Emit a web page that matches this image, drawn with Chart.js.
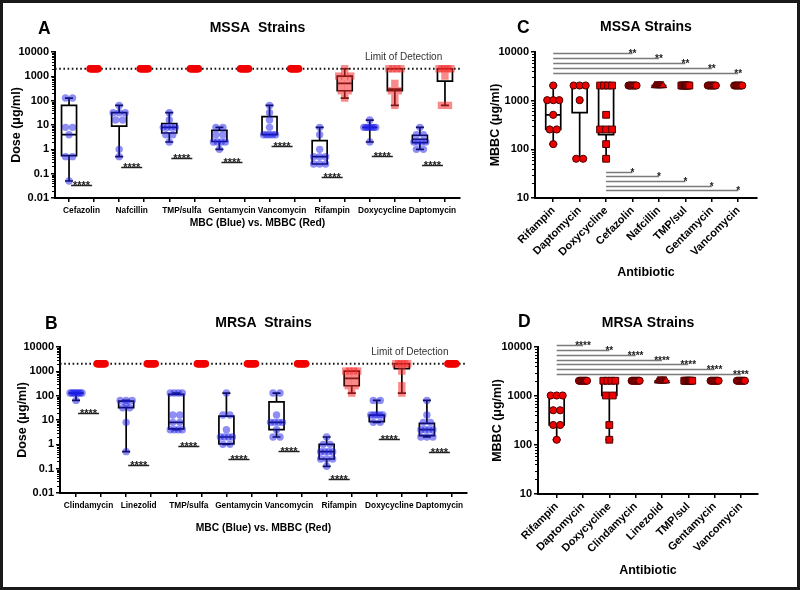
<!DOCTYPE html>
<html><head><meta charset="utf-8">
<script src="https://cdn.jsdelivr.net/npm/chart.js@4.4.1/dist/chart.umd.min.js"></script>
<style>
html,body{margin:0;padding:0;background:#fff;overflow:hidden;width:800px;height:590px;}
#frame{position:absolute;left:0;top:0;width:800px;height:590px;box-sizing:border-box;border:3px solid #1a1a1a;}
canvas{position:absolute;}
</style></head><body>
<div id="frame"></div>
<canvas id="cA" width="472" height="245" style="left:3px;top:3px"></canvas>
<canvas id="cB" width="472" height="250" style="left:3px;top:295px"></canvas>
<canvas id="cC" width="315" height="290" style="left:480px;top:3px"></canvas>
<canvas id="cD" width="315" height="290" style="left:480px;top:295px"></canvas>
<script>
// ---------------- DATA ----------------
const LOD = 2048;
const yTickValsAB = [0.01, 0.1, 1, 10, 100, 1000, 10000];
const yTickLabelsAB = ['0.01', '0.1', '1', '10', '100', '1000', '10000'];
const yTickValsCD = [10, 100, 1000, 10000];
const yTickLabelsCD = ['10', '100', '1000', '10000'];

// Panel A: MSSA, MBC (blue) vs MBBC (red)
const catsA = ['Cefazolin', 'Nafcillin', 'TMP/sulfa', 'Gentamycin', 'Vancomycin', 'Rifampin', 'Doxycycline', 'Daptomycin'];
const mbcA = [
  [128, 128, 8, 8, 4, 0.5, 0.5, 0.05],
  [64, 32, 32, 32, 16, 16, 1, 0.5],
  [32, 16, 8, 8, 8, 8, 4, 4, 2],
  [8, 8, 4, 4, 2, 2, 2, 2, 1],
  [64, 32, 16, 8, 4, 4, 4, 4, 4],
  [8, 4, 1, 0.5, 0.5, 0.5, 0.25, 0.25, 0.25],
  [16, 8, 8, 8, 8, 8, 8, 8, 2],
  [8, 4, 4, 2, 2, 2, 2, 1, 1]
];
const mbcBoxA = [
  [0.05, 0.55, 4, 64, 128],
  [0.5, 9, 32, 32, 64],
  [2, 4.7, 8, 11.5, 32],
  [1, 2.1, 2.1, 6, 8],
  [4, 4, 4, 22, 64],
  [0.25, 0.25, 0.5, 2.3, 8],
  [2, 8, 8, 8, 16],
  [1, 1.9, 2.6, 3.8, 8]
];
const mbbcA = [
  [2048, 2048, 2048, 2048, 2048, 2048, 2048, 2048, 2048],
  [2048, 2048, 2048, 2048, 2048, 2048, 2048, 2048, 2048],
  [2048, 2048, 2048, 2048, 2048, 2048, 2048, 2048, 2048],
  [2048, 2048, 2048, 2048, 2048, 2048, 2048, 2048, 2048],
  [2048, 2048, 2048, 2048, 2048, 2048, 2048, 2048, 2048],
  [2048, 1024, 1024, 1024, 512, 512, 256, 256, 128],
  [2048, 2048, 2048, 2048, 512, 256, 256, 128, 64],
  [2048, 2048, 2048, 2048, 2048, 1024, 64, 64]
];
const mbbcBoxA = [null, null, null, null, null,
  [128, 256, 512, 1024, 2048],
  [64, 256, 300, 2048, 2048],
  [64, 640, 2048, 2048, 2048]
];
const mbbcShapeA = ['circle', 'circle', 'circle', 'circle', 'circle', 'rect', 'rect', 'rect'];
const sigLevelA = [0.033, 0.19, 0.46, 0.3, 1.4, 0.07, 0.55, 0.22];

// Panel B: MRSA, MBC (blue) vs MBBC (red)
const catsB = ['Clindamycin', 'Linezolid', 'TMP/sulfa', 'Gentamycin', 'Vancomycin', 'Rifampin', 'Doxycycline', 'Daptomycin'];
const mbcB = [
  [128, 128, 128, 128, 128, 128, 128, 128, 64],
  [64, 64, 64, 48, 32, 32, 8, 0.5],
  [128, 128, 128, 128, 16, 16, 8, 8, 4, 4, 4, 4],
  [128, 16, 16, 4, 2, 2, 2, 2, 1, 1],
  [128, 128, 16, 8, 8, 8, 8, 4, 2, 2],
  [2, 1, 1, 0.5, 0.5, 0.5, 0.5, 0.25, 0.25, 0.25, 0.125],
  [64, 64, 16, 16, 16, 16, 16, 8, 8],
  [64, 16, 8, 8, 4, 4, 4, 4, 2, 2, 2]
];
const mbcBoxB = [
  [64, 128, 128, 128, 128],
  [0.5, 32, 32, 60, 64],
  [4, 4.3, 8, 112, 128],
  [1, 1.05, 2, 14.5, 128],
  [2, 4, 8, 56, 128],
  [0.125, 0.25, 0.5, 1, 2],
  [8, 8.5, 16, 16, 64],
  [2, 2.3, 4, 7.3, 64]
];
const mbbcB = [
  [2048, 2048, 2048, 2048, 2048, 2048, 2048, 2048, 2048],
  [2048, 2048, 2048, 2048, 2048, 2048, 2048, 2048, 2048],
  [2048, 2048, 2048, 2048, 2048, 2048, 2048, 2048, 2048],
  [2048, 2048, 2048, 2048, 2048, 2048, 2048, 2048, 2048],
  [2048, 2048, 2048, 2048, 2048, 2048, 2048, 2048, 2048],
  [1024, 1024, 1024, 1024, 512, 512, 256, 256, 128],
  [2048, 2048, 2048, 2048, 2048, 1024, 256, 128],
  [2048, 2048, 2048, 2048, 2048, 2048, 2048, 2048, 2048]
];
const mbbcBoxB = [null, null, null, null, null,
  [128, 256, 512, 1024, 1024],
  [128, 1300, 2048, 2048, 2048],
  null
];
const mbbcShapeB = ['circle', 'circle', 'circle', 'circle', 'circle', 'rect', 'rect', 'circle'];
const sigLevelB = [20, 0.14, 0.87, 0.25, 0.55, 0.037, 1.6, 0.5];

// Panel C: MSSA MBBC by antibiotic
const catsC = ['Rifampin', 'Daptomycin', 'Doxycycline', 'Cefazolin', 'Nafcillin', 'TMP/sul', 'Gentamycin', 'Vancomycin'];
const mbbcC = [
  [2048, 1024, 1024, 1024, 512, 256, 256, 128],
  [2048, 2048, 2048, 1024, 64, 64],
  [2048, 2048, 2048, 2048, 512, 256, 256, 256, 128, 64],
  [2048, 2048, 2048, 2048, 2048, 2048, 2048, 2048],
  [2048, 2048, 2048, 2048, 2048, 2048, 2048, 2048],
  [2048, 2048, 2048, 2048, 2048, 2048, 2048, 2048],
  [2048, 2048, 2048, 2048, 2048, 2048, 2048, 2048],
  [2048, 2048, 2048, 2048, 2048, 2048, 2048, 2048]
];
const boxC = [
  [128, 256, 512, 1024, 2048],
  [64, 570, 2048, 2048, 2048],
  [64, 200, 256, 2048, 2048],
  [2048, 2048, 2048, 2048, 2048],
  [2048, 2048, 2048, 2048, 2048],
  [2048, 2048, 2048, 2048, 2048],
  [2048, 2048, 2048, 2048, 2048],
  [2048, 2048, 2048, 2048, 2048]
];
const shapeC = ['circle', 'circle', 'rect', 'circle', 'triangle', 'rect', 'circle', 'circle'];
const sigTopToC = [3, 4, 5, 6, 7];
const sigTopLevelC = [9400, 7400, 5900, 4700, 3700];
const sigTopLabelC = ['**', '**', '**', '**', '**'];
const sigLowToC = [3, 4, 5, 6, 7];
const sigLowLevelC = [35, 28, 22.5, 18, 14.5];
const sigLowLabelC = ['*', '*', '*', '*', '*'];

// Panel D: MRSA MBBC by antibiotic
const catsD = ['Rifampin', 'Daptomycin', 'Doxycycline', 'Clindamycin', 'Linezolid', 'TMP/sul', 'Gentamycin', 'Vancomycin'];
const mbbcD = [
  [1024, 1024, 1024, 512, 512, 256, 256, 128],
  [2048, 2048, 2048, 2048, 2048, 2048, 2048, 2048],
  [2048, 2048, 2048, 2048, 1024, 1024, 256, 128],
  [2048, 2048, 2048, 2048, 2048, 2048, 2048, 2048],
  [2048, 2048, 2048, 2048, 2048, 2048, 2048, 2048],
  [2048, 2048, 2048, 2048, 2048, 2048, 2048, 2048],
  [2048, 2048, 2048, 2048, 2048, 2048, 2048, 2048],
  [2048, 2048, 2048, 2048, 2048, 2048, 2048, 2048]
];
const boxD = [
  [128, 256, 512, 1024, 1024],
  [2048, 2048, 2048, 2048, 2048],
  [128, 1024, 2048, 2048, 2048],
  [2048, 2048, 2048, 2048, 2048],
  [2048, 2048, 2048, 2048, 2048],
  [2048, 2048, 2048, 2048, 2048],
  [2048, 2048, 2048, 2048, 2048],
  [2048, 2048, 2048, 2048, 2048]
];
const shapeD = ['circle', 'circle', 'rect', 'circle', 'triangle', 'rect', 'circle', 'circle'];
const sigToD = [1, 2, 3, 4, 5, 6, 7];
const sigLevelD = [11000, 8700, 6900, 5500, 4450, 3510, 2820];
const sigLabelD = ['****', '**', '****', '****', '****', '****', '****'];

// ---------------- RENDERING ----------------
const FONT = "'Liberation Sans', Arial, Helvetica, sans-serif";
Chart.defaults.font.family = FONT;
Chart.defaults.color = '#000';

const BLUE = 'rgba(30,30,235,0.5)';
const RED = '#f20000';
const RED_T = 'rgba(245,40,40,0.55)';

// horizontal spread (beeswarm-like) of equal values, returned in axis units
function spread(vals, ppu) {
  const counts = {};
  vals.forEach(v => counts[v] = (counts[v] || 0) + 1);
  const allSame = Object.keys(counts).length === 1;
  const seen = {};
  return vals.map(v => {
    const n = counts[v];
    const k = seen[v] = (seen[v] || 0) + 1;
    if (n === 1) return 0;
    const span = allSame ? 8 : 12;
    const step = Math.min(7, span / (n - 1));
    return ((k - 1) - (n - 1) / 2) * step / ppu;
  });
}

function pointDataset(vals, pos, ppu, style) {
  const off = spread(vals, ppu);
  return Object.assign({
    data: vals.map((v, k) => ({x: pos + off[k], y: v})),
    borderWidth: 0
  }, style);
}

const deco = {
  id: 'deco',
  beforeDatasetsDraw(chart, args, o) {
    const {ctx, chartArea: ca, scales: {x, y}} = chart;
    ctx.save();
    if (o.lod) {
      const py = y.getPixelForValue(o.lod);
      ctx.setLineDash([1.6, 2.6]);
      ctx.lineWidth = 1.8;
      ctx.strokeStyle = '#111';
      ctx.beginPath(); ctx.moveTo(ca.left, py); ctx.lineTo(ca.right, py); ctx.stroke();
      ctx.setLineDash([]);
    }
    ctx.strokeStyle = '#000';
    ctx.lineWidth = 1.7;
    (o.boxes || []).forEach(b => {
      if (!b.s) return;
      const cx = x.getPixelForValue(b.x);
      const [mn, q1, md, q3, mx] = b.s.map(v => y.getPixelForValue(v));
      const hw = 7.5, cw = 4;
      ctx.beginPath();
      ctx.moveTo(cx, mn); ctx.lineTo(cx, q1);
      ctx.moveTo(cx, q3); ctx.lineTo(cx, mx);
      ctx.moveTo(cx - cw, mn); ctx.lineTo(cx + cw, mn);
      ctx.moveTo(cx - cw, mx); ctx.lineTo(cx + cw, mx);
      ctx.rect(cx - hw, q3, 2 * hw, q1 - q3);
      ctx.moveTo(cx - hw, md); ctx.lineTo(cx + hw, md);
      ctx.stroke();
    });
    ctx.restore();
  },
  afterDraw(chart, args, o) {
    const {ctx, chartArea: ca, scales: {x, y}} = chart;
    ctx.save();
    // minor log ticks on y axis
    ctx.strokeStyle = '#000';
    ctx.lineWidth = 1;
    for (let d = y.min; d < y.max * 0.999; d *= 10) {
      for (let m = 2; m <= 9; m++) {
        const py = Math.round(y.getPixelForValue(d * m)) + 0.5;
        ctx.beginPath(); ctx.moveTo(ca.left - 3, py); ctx.lineTo(ca.left, py); ctx.stroke();
      }
    }
    // limit of detection label
    if (o.lodText) {
      ctx.fillStyle = '#333';
      ctx.font = '10px ' + FONT;
      ctx.textAlign = 'center';
      ctx.textBaseline = 'middle';
      ctx.fillText(o.lodText, x.getPixelForValue(o.lodTextX), y.getPixelForValue(o.lod) - 12);
    }
    // significance bars
    (o.sig || []).forEach(s => {
      const py = Math.round(y.getPixelForValue(s.y)) + 0.5;
      const x1 = x.getPixelForValue(s.x1), x2 = x.getPixelForValue(s.x2);
      ctx.strokeStyle = s.color;
      ctx.lineWidth = 1.5;
      ctx.beginPath(); ctx.moveTo(x1, py); ctx.lineTo(x2, py); ctx.stroke();
      ctx.fillStyle = '#222';
      ctx.font = 'bold ' + s.size + 'px ' + FONT;
      ctx.textAlign = 'center';
      ctx.textBaseline = 'alphabetic';
      ctx.fillText(s.label, s.atEnd ? x2 : (x1 + x2) / 2, py + s.dy);
    });
    // panel letter
    if (o.letter) {
      ctx.fillStyle = '#000';
      ctx.font = 'bold 17.5px ' + FONT;
      ctx.textAlign = 'left';
      ctx.textBaseline = 'middle';
      ctx.fillText(o.letter, o.letterX, o.letterY);
    }
    ctx.restore();
  }
};
Chart.register(deco);

function axisCommon() {
  return {
    grid: {display: true, drawOnChartArea: false, drawTicks: true, tickLength: 4, color: '#000', lineWidth: 1.5},
    border: {display: true, color: '#000', width: 2}
  };
}

function makeChart(id, c) {
  return new Chart(document.getElementById(id), {
    type: 'scatter',
    data: {datasets: c.datasets},
    options: {
      responsive: false,
      animation: false,
      events: [],
      layout: {padding: {left: 0, right: c.padR, top: 0, bottom: 0}},
      plugins: {
        legend: {display: false},
        tooltip: {enabled: false},
        title: {display: true, text: c.title, fullSize: false, color: '#000',
          font: {size: 14, weight: 'bold'}, padding: {top: c.titlePadTop, bottom: c.titlePadBottom}},
        deco: c.deco
      },
      scales: {
        x: Object.assign(axisCommon(), {
          type: 'linear', min: c.xMin, max: c.xMax,
          afterBuildTicks: ax => { ax.ticks = c.xTickVals.map(v => ({value: v})); },
          afterFit: s => { s.height = c.xH; },
          ticks: {autoSkip: false, maxRotation: c.rot, minRotation: c.rot, padding: c.xTickPad,
            labelOffset: c.labelOffset, color: '#000',
            font: {size: c.xTickSize, weight: 'bold'},
            callback: (v, i) => c.xLabels[i]},
          title: {display: true, text: c.xTitle, color: '#000', font: {size: c.xTitleSize, weight: 'bold'},
            padding: {top: 0, bottom: c.xTitlePad}}
        }),
        y: Object.assign(axisCommon(), {
          type: 'logarithmic', min: c.yMin, max: c.yMax,
          afterBuildTicks: ax => { ax.ticks = c.yTickVals.map(v => ({value: v})); },
          afterFit: s => { s.width = c.yW; },
          ticks: {autoSkip: false, padding: 2, color: '#000', font: {size: 11, weight: 'bold'},
            callback: (v, i) => c.yLabels[i]},
          title: {display: true, text: c.yTitle, color: '#000', font: {size: 12.5, weight: 'bold'},
            padding: {top: c.yTitlePad, bottom: 0}}
        })
      }
    }
  });
}

// ---- build pair panels (A, B)
function pairPanel(cats, mbc, mbcBox, mbbc, mbbcBox, shapes, sigLevels) {
  const ppu = 25.07;
  const datasets = [];
  const boxes = [];
  const sig = [];
  cats.forEach((c, i) => {
    datasets.push(pointDataset(mbc[i], 2 * i, ppu, {pointStyle: 'circle', pointRadius: 3.7, backgroundColor: BLUE}));
    const sq = shapes[i] === 'rect';
    datasets.push(pointDataset(mbbc[i], 2 * i + 1, ppu, sq
      ? {pointStyle: 'rect', pointRadius: 5.2, backgroundColor: RED_T}
      : {pointStyle: 'circle', pointRadius: 3.8, backgroundColor: RED}));
    boxes.push({x: 2 * i, s: mbcBox[i]});
    boxes.push({x: 2 * i + 1, s: mbbcBox[i]});
    sig.push({x1: 2 * i + 0.08, x2: 2 * i + 0.92, y: sigLevels[i], label: '****', color: '#222', size: 11, dy: 3, atEnd: false});
  });
  return {datasets, boxes, sig,
    xTickVals: cats.map((c, i) => [2 * i, 2 * i + 1]).flat(),
    xLabels: cats.map(c => [c, '']).flat()};
}

const pA = pairPanel(catsA, mbcA, mbcBoxA, mbbcA, mbbcBoxA, mbbcShapeA, sigLevelA);
makeChart('cA', {
  datasets: pA.datasets, title: 'MSSA  Strains', titlePadTop: 16.6, titlePadBottom: 15.6,
  padR: 15, xMin: -0.56, xMax: 15.6, xTickVals: pA.xTickVals, xLabels: pA.xLabels,
  xH: 50, rot: 0, xTickPad: 4, labelOffset: 12.5, xTickSize: 8.3,
  xTitle: 'MBC (Blue) vs. MBBC (Red)', xTitleSize: 10.3, xTitlePad: 18.8,
  yMin: 0.01, yMax: 10000, yTickVals: yTickValsAB, yLabels: yTickLabelsAB, yW: 52,
  yTitle: 'Dose (μg/ml)', yTitlePad: 6.5,
  deco: {lod: LOD, lodText: 'Limit of Detection', lodTextX: 13.35, boxes: pA.boxes, sig: pA.sig,
    letter: 'A', letterX: 35, letterY: 25.8}
});

const pB = pairPanel(catsB, mbcB, mbcBoxB, mbbcB, mbbcBoxB, mbbcShapeB, sigLevelB);
makeChart('cB', {
  datasets: pB.datasets, title: 'MRSA  Strains', titlePadTop: 19.6, titlePadBottom: 15.6,
  padR: 8, xMin: -0.64, xMax: 15.6, xTickVals: pB.xTickVals, xLabels: pB.xLabels,
  xH: 52, rot: 0, xTickPad: 4, labelOffset: 12.5, xTickSize: 8.3,
  xTitle: 'MBC (Blue) vs. MBBC (Red)', xTitleSize: 10.3, xTitlePad: 10.8,
  yMin: 0.01, yMax: 10000, yTickVals: yTickValsAB, yLabels: yTickLabelsAB, yW: 57,
  yTitle: 'Dose (μg/ml)', yTitlePad: 12.2,
  deco: {lod: LOD, lodText: 'Limit of Detection', lodTextX: 13.32, boxes: pB.boxes, sig: pB.sig,
    letter: 'B', letterX: 42, letterY: 29.3}
});

// ---- build single panels (C, D)
function singlePanel(cats, vals, boxStats, shapes) {
  const ppu = 26.4;
  const datasets = [];
  const boxes = [];
  cats.forEach((c, i) => {
    const sh = shapes[i];
    const r = sh === 'rect' ? 4.8 : (sh === 'triangle' ? 4.3 : 3.6);
    datasets.push(pointDataset(vals[i], i, ppu, {pointStyle: sh, pointRadius: r,
      backgroundColor: '#ee0000', borderColor: '#4a0000', borderWidth: 1}));
    boxes.push({x: i, s: boxStats[i]});
  });
  return {datasets, boxes, xTickVals: cats.map((c, i) => i)};
}

const pC = singlePanel(catsC, mbbcC, boxC, shapeC);
const sigC = [];
sigTopToC.forEach((t, k) => sigC.push({x1: 0, x2: t, y: sigTopLevelC[k], label: sigTopLabelC[k], color: '#7a7a7a', size: 10, dy: 3, atEnd: true}));
sigLowToC.forEach((t, k) => sigC.push({x1: 2, x2: t, y: sigLowLevelC[k], label: sigLowLabelC[k], color: '#7a7a7a', size: 10, dy: 3, atEnd: true}));
makeChart('cC', {
  datasets: pC.datasets, title: 'MSSA Strains', titlePadTop: 15.6, titlePadBottom: 16.6,
  padR: 38, xMin: -0.69, xMax: 7.71, xTickVals: pC.xTickVals, xLabels: catsC,
  xH: 95, rot: 45, xTickPad: 2, labelOffset: 0, xTickSize: 11,
  xTitle: 'Antibiotic', xTitleSize: 12.5, xTitlePad: 12.5,
  yMin: 10, yMax: 10000, yTickVals: yTickValsCD, yLabels: yTickLabelsCD, yW: 55,
  yTitle: 'MBBC (μg/ml)', yTitlePad: 8.5,
  deco: {boxes: pC.boxes, sig: sigC, letter: 'C', letterX: 37, letterY: 25}
});

const pD = singlePanel(catsD, mbbcD, boxD, shapeD);
const sigD = sigToD.map((t, k) => ({x1: 0, x2: t, y: sigLevelD[k], label: sigLabelD[k], color: '#7a7a7a', size: 10, dy: 3, atEnd: true}));
makeChart('cD', {
  datasets: pD.datasets, title: 'MRSA Strains', titlePadTop: 19.6, titlePadBottom: 15.6,
  padR: 37, xMin: -0.71, xMax: 7.65, xTickVals: pD.xTickVals, xLabels: catsD,
  xH: 91, rot: 45, xTickPad: 2, labelOffset: 0, xTickSize: 11,
  xTitle: 'Antibiotic', xTitleSize: 12.5, xTitlePad: 6.5,
  yMin: 10, yMax: 10000, yTickVals: yTickValsCD, yLabels: yTickLabelsCD, yW: 58,
  yTitle: 'MBBC (μg/ml)', yTitlePad: 10.5,
  deco: {boxes: pD.boxes, sig: sigD, letter: 'D', letterX: 38, letterY: 27}
});
</script>
</body></html>
